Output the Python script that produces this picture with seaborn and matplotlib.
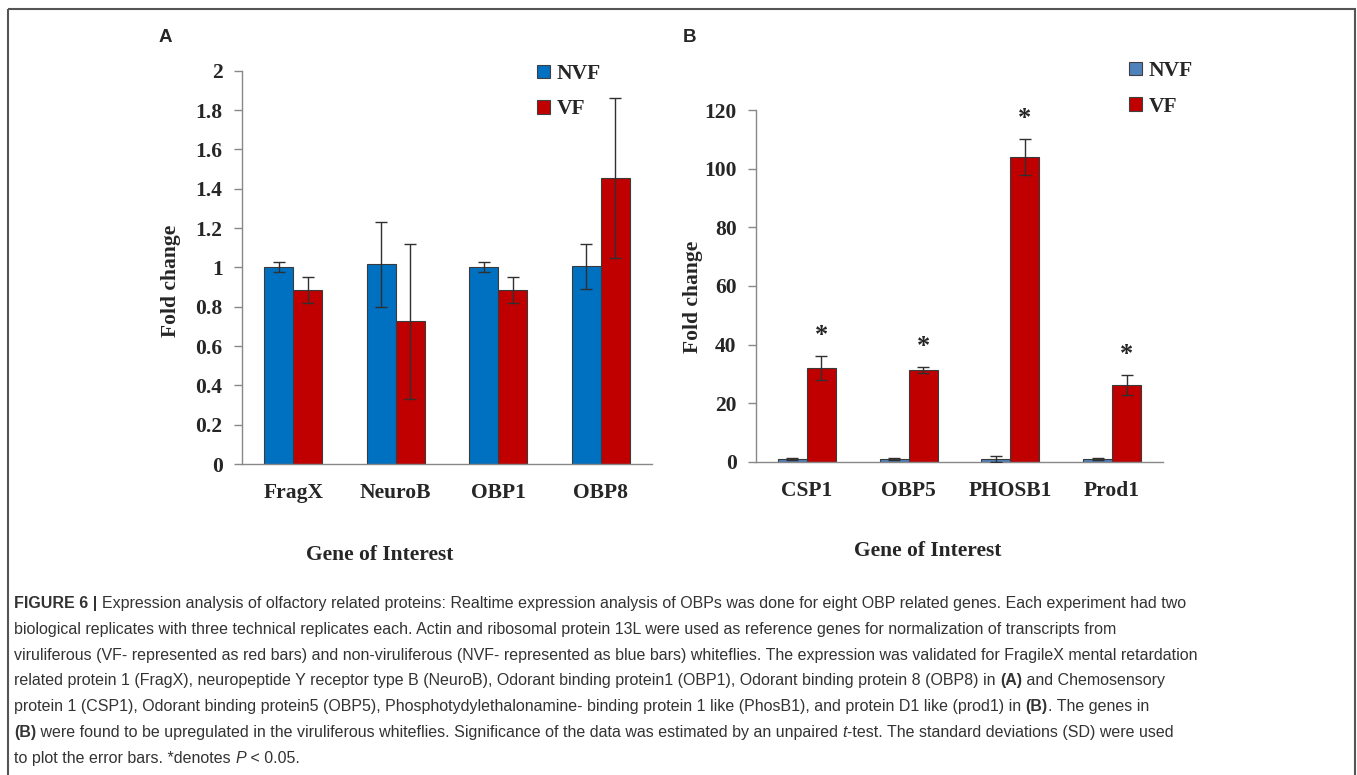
import numpy as np
import pandas as pd
import matplotlib
matplotlib.use('Agg')
import matplotlib.pyplot as plt
from matplotlib import font_manager
from matplotlib.patches import Patch, Rectangle
import seaborn as sns

# panel A
genes_a = ['FragX', 'NeuroB', 'OBP1', 'OBP8']
nvf_a = [1.00, 1.015, 1.00, 1.005]
nvf_a_sd = [0.025, 0.215, 0.025, 0.115]
vf_a = [0.885, 0.725, 0.885, 1.455]
vf_a_sd = [0.065, 0.395, 0.065, 0.405]
yticks_a = [0, 0.2, 0.4, 0.6, 0.8, 1.0, 1.2, 1.4, 1.6, 1.8, 2.0]
ylabels_a = ['0', '0.2', '0.4', '0.6', '0.8', '1', '1.2', '1.4', '1.6', '1.8', '2']

# panel B
genes_b = ['CSP1', 'OBP5', 'PHOSB1', 'Prod1']
nvf_b = [1.0, 1.0, 1.0, 1.0]
nvf_b_sd = [0.3, 0.2, 1.1, 0.2]
vf_b = [32.1, 31.4, 104.0, 26.4]
vf_b_sd = [4.2, 1.1, 6.2, 3.4]
signif_b = [True, True, True, True]
yticks_b = [0, 20, 40, 60, 80, 100, 120]

groups = ['NVF', 'VF']
colors_a = {'NVF': '#0070C0', 'VF': '#C00000'}
colors_b = {'NVF': '#4F81BD', 'VF': '#C00000'}

caption = [
    [("FIGURE 6 | ", 'bold'), ("Expression analysis of olfactory related proteins: Realtime expression analysis of OBPs was done for eight OBP related genes. Each experiment had two", 'normal')],
    [("biological replicates with three technical replicates each. Actin and ribosomal protein 13L were used as reference genes for normalization of transcripts from", 'normal')],
    [("viruliferous (VF- represented as red bars) and non-viruliferous (NVF- represented as blue bars) whiteflies. The expression was validated for FragileX mental retardation", 'normal')],
    [("related protein 1 (FragX), neuropeptide Y receptor type B (NeuroB), Odorant binding protein1 (OBP1), Odorant binding protein 8 (OBP8) in ", 'normal'), ("(A)", 'bold'), (" and Chemosensory", 'normal')],
    [("protein 1 (CSP1), Odorant binding protein5 (OBP5), Phosphotydylethalonamine- binding protein 1 like (PhosB1), and protein D1 like (prod1) in ", 'normal'), ("(B)", 'bold'), (". The genes in", 'normal')],
    [("(B)", 'bold'), (" were found to be upregulated in the viruliferous whiteflies. Significance of the data was estimated by an unpaired ", 'normal'), ("t", 'italic'), ("-test. The standard deviations (SD) were used", 'normal')],
    [("to plot the error bars. *denotes ", 'normal'), ("P", 'italic'), (" < 0.05.", 'normal')],
]

sns.set_theme(style='white')
plt.rcParams['font.family'] = ['Liberation Serif', 'DejaVu Serif']

W, H = 1357, 775
fig = plt.figure(figsize=(W / 100, H / 100), dpi=100)

# full-figure helper axes for border, panel letters and caption
cap_ax = fig.add_axes([0, 0, 1, 1])
cap_ax.axis('off')
cap_ax.patch.set_visible(False)
cap_ax.set_xlim(0, W)
cap_ax.set_ylim(H, 0)
cap_ax.add_patch(Rectangle((8, 9), 1347, 800, fill=False, ec='#555555', lw=1.5, clip_on=False))

letter_font = dict(family='Liberation Sans', weight='bold', size=13.5)
cap_ax.text(159, 37, 'A', va='center', ha='left', **letter_font)
cap_ax.text(683, 37, 'B', va='center', ha='left', **letter_font)

tick_font = dict(family='Liberation Serif', weight='bold', size=15.5)


def panel(ax, genes, nvf, nvf_sd, vf, vf_sd, palette, yticks, ylabels, ylim):
    df = pd.DataFrame({'gene': genes * 2,
                       'group': ['NVF'] * len(genes) + ['VF'] * len(genes),
                       'fold': nvf + vf})
    sns.barplot(data=df, x='gene', y='fold', hue='group', hue_order=groups,
                palette=palette, errorbar=None, width=0.57, saturation=1,
                edgecolor='#3a3a3a', linewidth=0.8, legend=False, ax=ax)
    tops = []
    for cont, sd in zip(ax.containers, [nvf_sd, vf_sd]):
        bars = sorted(cont, key=lambda b: b.get_x())
        xs = [b.get_x() + b.get_width() / 2 for b in bars]
        ys = [b.get_height() for b in bars]
        ax.errorbar(xs, ys, yerr=sd, fmt='none', ecolor='#303030',
                     elinewidth=1, capsize=4, capthick=1, zorder=5)
        tops.append((xs, [y + s for y, s in zip(ys, sd)]))
    ax.set_xlim(-0.5, len(genes) - 0.5)
    ax.set_ylim(*ylim)
    ax.set_yticks(yticks)
    ax.set_yticklabels(ylabels)
    ax.set_xticks(range(len(genes)))
    ax.set_xticks(np.arange(-0.5, len(genes)), minor=True)
    ax.tick_params(axis='x', which='major', length=0, pad=13.5)
    ax.tick_params(axis='x', which='minor', length=7, width=1, color='#888888')
    ax.tick_params(axis='y', which='major', length=6, width=1, color='#888888',
                   left=True, pad=8)
    for lab in ax.get_xticklabels() + ax.get_yticklabels():
        lab.set_fontproperties(font_manager.FontProperties(**tick_font))
    for side in ['top', 'right']:
        ax.spines[side].set_visible(False)
    for side in ['left', 'bottom']:
        ax.spines[side].set_color('#888888')
        ax.spines[side].set_linewidth(1)
    ax.set_ylabel('Fold change', **tick_font)
    ax.set_xlabel('Gene of Interest', **tick_font)
    return tops


ax_a = fig.add_axes([242 / W, 1 - 464 / H, 410 / W, 393.3 / H])
panel(ax_a, genes_a, nvf_a, nvf_a_sd, vf_a, vf_a_sd, colors_a,
      yticks_a, ylabels_a, (0, 2))
ax_a.yaxis.set_label_coords(-0.149, 0.465)
ax_a.xaxis.set_label_coords(0.337, -0.205)

ax_b = fig.add_axes([756 / W, 1 - 462 / H, 407 / W, 352 / H])
tops_b = panel(ax_b, genes_b, nvf_b, nvf_b_sd, vf_b, vf_b_sd, colors_b,
               yticks_b, [str(t) for t in yticks_b], (0, 120))
ax_b.yaxis.set_label_coords(-0.130, 0.469)
ax_b.xaxis.set_label_coords(0.423, -0.225)

# significance stars over the VF bars
star_font = dict(tick_font, size=19)
for x, top, sig in zip(tops_b[1][0], tops_b[1][1], signif_b):
    if sig:
        ax_b.annotate('*', xy=(x, top), xytext=(0, 10), textcoords='offset points',
                      ha='center', va='baseline', annotation_clip=False, **star_font)

legend_prop = font_manager.FontProperties(**tick_font)
for pal, anchor in [(colors_a, (537, 64)), (colors_b, (1129, 61))]:
    handles = [Patch(facecolor=pal[g], edgecolor='#404040', lw=0.8, label=g) for g in groups]
    fig.legend(handles=handles, loc='upper left',
               bbox_to_anchor=(anchor[0] / W, 1 - anchor[1] / H),
               frameon=False, prop=legend_prop, handlelength=0.6, handleheight=0.6,
               handletextpad=0.3, labelspacing=0.72, borderpad=0, borderaxespad=0)

# caption
avail = {f.name for f in font_manager.fontManager.ttflist}
cap_family = 'Liberation Sans Narrow' if 'Liberation Sans Narrow' in avail else 'Liberation Sans'
styles = {'normal': dict(weight='normal', style='normal'),
          'bold': dict(weight='bold', style='normal'),
          'italic': dict(weight='normal', style='italic')}


def draw_line(segments, y, size):
    arts = []
    prev = None
    for txt, st in segments:
        kw = dict(family=cap_family, size=size, color='#333333', **styles[st])
        if prev is None:
            t = cap_ax.text(14, y, txt, ha='left', va='baseline', **kw)
        else:
            t = cap_ax.annotate(txt, xy=(1, 0), xycoords=prev, ha='left', va='bottom', **kw)
        arts.append(t)
        prev = t
    return arts


# fit the caption font size to the width of the first line
probe = draw_line(caption[0], 608, 10)
fig.canvas.draw()
right = probe[-1].get_window_extent().x1
for t in probe:
    t.remove()
cap_size = 10 * (1188 - 14) / (right - 14)

for i, line in enumerate(caption):
    draw_line(line, 608 + 25.8 * i, cap_size)

fig.savefig('out.png', dpi=100)
